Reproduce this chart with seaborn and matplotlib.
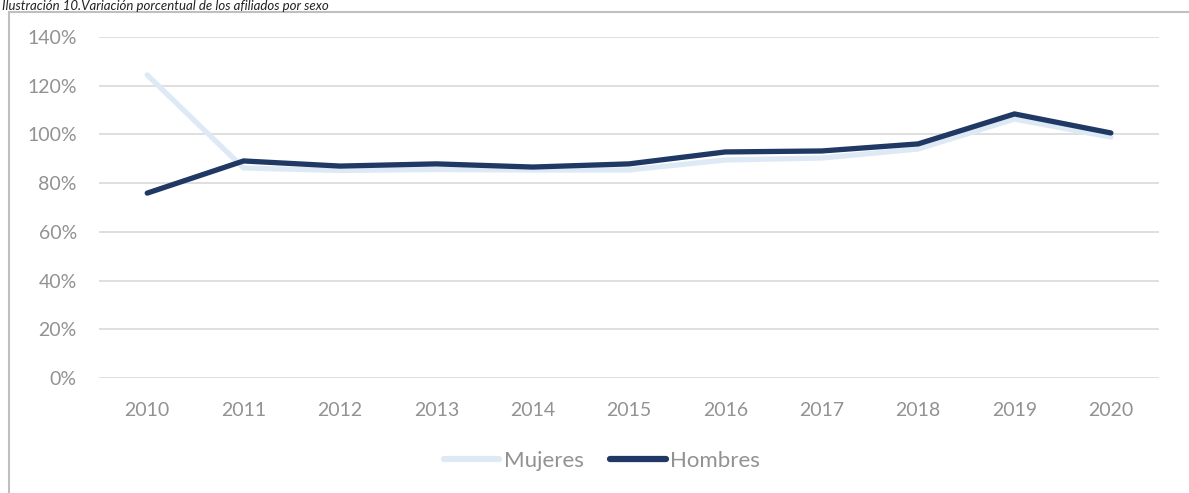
import matplotlib
matplotlib.use("Agg")
import matplotlib.pyplot as plt
import matplotlib.patches as mpatches
import seaborn as sns
import pandas as pd

years = ["2010", "2011", "2012", "2013", "2014", "2015", "2016", "2017", "2018", "2019", "2020"]
mujeres = [124.4, 86.2, 85.2, 85.6, 85.4, 85.4, 89.5, 90.3, 94.0, 106.3, 98.9]
hombres = [75.9, 89.1, 87.0, 87.9, 86.6, 87.9, 92.8, 93.2, 96.1, 108.4, 100.6]
series_names = ["Mujeres", "Hombres"]
colors = ["#DDEAF6", "#1F3864"]
y_ticks = [0, 20, 40, 60, 80, 100, 120, 140]
title = "Ilustración 10.Variación porcentual de los afiliados por sexo"

df = pd.DataFrame({
    "year": years * 2,
    "value": mujeres + hombres,
    "serie": [series_names[0]] * len(years) + [series_names[1]] * len(years),
})

sns.set_theme(style="white")
plt.rcParams["font.family"] = ["Lato", "DejaVu Sans"]

fig = plt.figure(figsize=(11.89, 4.93), dpi=100)
ax = fig.add_axes([0.0833, 0.2333, 0.8915, 0.6917])

sns.lineplot(data=df, x="year", y="value", hue="serie", palette=colors,
             linewidth=3.8, sort=False, ax=ax, legend=True,
             solid_capstyle="round", solid_joinstyle="miter")

ax.set_xlim(-0.5, len(years) - 0.5)
ax.set_ylim(0, 140)
ax.set_yticks(y_ticks)
ax.set_yticklabels([f"{t}%" for t in y_ticks])
ax.grid(axis="y", color="#d9d9d9", linewidth=1.2)
ax.set_axisbelow(True)
for s in ax.spines.values():
    s.set_visible(False)
ax.set_xlabel("")
ax.set_ylabel("")
ax.tick_params(axis="both", length=0, labelsize=14, labelcolor="#929292")
ax.tick_params(axis="x", pad=17)
ax.tick_params(axis="y", pad=16)

leg = ax.legend(loc="center", bbox_to_anchor=(0.4745, -0.243), ncol=2, frameon=False,
                fontsize=16, handlelength=2.5, handletextpad=0.2, columnspacing=1.2)
for t in leg.get_texts():
    t.set_color("#929292")
for h in leg.get_lines():
    h.set_linewidth(4.5)
    h.set_solid_capstyle("round")

# outer frame
rect = mpatches.Rectangle((9 / 1189, -0.05), 1.1, 1 - 12 / 493 + 0.05, transform=fig.transFigure,
                          fill=False, edgecolor="#bfbfbf", linewidth=1.5)
fig.patches.append(rect)

fig.text(2 / 1189, 1.0, title, fontsize=9.5, style="italic", color="#222222",
         ha="left", va="top")

fig.savefig("out.png", dpi=100)
